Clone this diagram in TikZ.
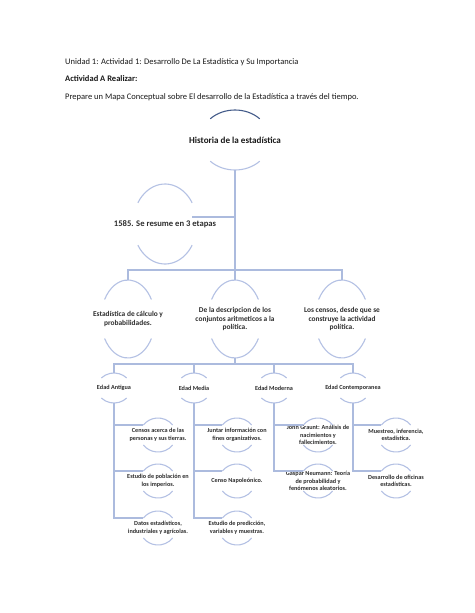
\documentclass[tikz,border=0pt]{standalone}
\usepackage{fontspec}
\setmainfont{Carlito}
\definecolor{lineblue}{RGB}{172,187,222}
\definecolor{arcblue}{RGB}{180,193,228}
\definecolor{darkarc}{RGB}{68,92,138}
\definecolor{txt}{RGB}{25,25,25}
\definecolor{ntxt}{RGB}{45,45,45}
\tikzset{
  conn/.style={draw=lineblue, line width=1.1pt},
  arcline/.style={draw=arcblue, line width=1.1pt},
  hdr/.style={anchor=base west, inner sep=0pt, text=txt, font=\fontsize{8.5}{10}\selectfont},
  titlebox/.style={inner sep=0pt, text=txt, font=\fontsize{9.1}{11}\bfseries\selectfont, minimum height=60pt},
  lvlone/.style={inner sep=0pt, text=ntxt, align=center, font=\fontsize{8.6}{10}\bfseries\selectfont, minimum height=80pt},
  lvltwo/.style={inner sep=0pt, text=ntxt, align=center, font=\fontsize{7.4}{8.8}\bfseries\selectfont, minimum height=78pt},
  lvlthree/.style={inner sep=0pt, text=ntxt, align=center, font=\fontsize{6.2}{7.5}\bfseries\selectfont, minimum height=30pt},
  leaf/.style={inner sep=0pt, text=ntxt, align=center, font=\fontsize{6.2}{7.6}\bfseries\selectfont, minimum height=34pt}
}
\newcommand\myarcs[4]{%
  \draw[arcline] (#1.center) ++(#4:#2pt and #3pt) arc[start angle=#4, end angle=180-#4, x radius=#2pt, y radius=#3pt];
  \draw[arcline] (#1.center) ++(-#4:#2pt and #3pt) arc[start angle=-#4, end angle=-180+#4, x radius=#2pt, y radius=#3pt];}
\begin{document}
\begin{tikzpicture}[x=1pt, y=1pt]
\useasboundingbox[fill=white] (0,0) rectangle (474,-613);
% header
\node[hdr] (h1) at (65,-64) {Unidad 1: Actividad 1: Desarrollo De La Estadística y Su Importancia};
\node[hdr, font=\fontsize{8.5}{10}\bfseries\selectfont] (h2) at (65,-81) {Actividad A Realizar:};
\node[hdr] (h3) at (65,-99) {Prepare un Mapa Conceptual sobre El desarrollo de la Estadística a través del tiempo.};
% nodes
\node[titlebox] (root) at (235,-140) {Historia de la estadística};
\node[lvlone] (n1585) at (165,-224) {1585. Se resume en 3 etapas};
\node[lvltwo] (a) at (128,-319) {Estadística de cálculo y\\probabilidades.};
\node[lvltwo] (b) at (235,-319) {De la descripcion de los\\conjuntos aritmeticos a la\\política.};
\node[lvltwo] (c) at (342,-319) {Los censos, desde que se\\construye la actividad\\política.};
\node[lvlthree] (anti) at (114,-388) {Edad Antigua};
\node[lvlthree] (media) at (194,-388) {Edad Media};
\node[lvlthree] (moder) at (274,-388) {Edad Moderna};
\node[lvlthree] (contemp) at (353,-388) {Edad Contemporanea};
\node[leaf] (a1) at (158,-435) {Censos acerca de las\\personas y sus tierras.};
\node[leaf] (a2) at (158,-481) {Estudio de población en\\los imperios.};
\node[leaf] (a3) at (158,-528) {Datos estadísticos,\\industriales y agrícolas.};
\node[leaf] (m1) at (237,-435) {Juntar información con\\fines organizativos.};
\node[leaf] (m2) at (237,-481) {Censo Napoleónico.};
\node[leaf] (m3) at (237,-528) {Estudio de predicción,\\variables y muestras.};
\node[leaf] (o1) at (318,-435) {John Graunt: Análisis de\\nacimientos y\\fallecimientos.};
\node[leaf] (o2) at (318,-481) {Gaspar Neumann: Teoría\\de probabilidad y\\fenómenos aleatorios.};
\node[leaf] (c1) at (396,-435) {Muestreo, inferencia,\\estadística.};
\node[leaf] (c2) at (396,-481) {Desarrollo de oficinas\\estadísticas.};
% arcs
\draw[line width=1.1pt, draw=darkarc] (root.center) ++(45:35pt and 30pt) arc[start angle=45, end angle=135, x radius=35pt, y radius=30pt];
\draw[arcline] (root.center) ++(-45:35pt and 30pt) arc[start angle=-45, end angle=-135, x radius=35pt, y radius=30pt];
\myarcs{n1585}{32}{40}{32}
\myarcs{a}{27}{39}{30}
\myarcs{b}{27}{39}{30}
\myarcs{c}{27}{39}{30}
\foreach \n in {anti,media,moder,contemp}{\myarcs{\n}{17}{15}{42}}
\foreach \n in {a1,a2,a3,m1,m2,m3,o1,o2,c1,c2}{\myarcs{\n}{18}{17}{36}}
% connectors
\coordinate (j1) at (235,-270);
\coordinate (j2) at (235,-364);
\coordinate (s1) at (235,-217);
\draw[conn] (root.south) -- (b.north);
\draw[conn] (s1) -- ([xshift=-43pt]s1);
\draw[conn] (a.north) |- (j1) -| (c.north);
\draw[conn] (b.south) -- (j2);
\draw[conn] (anti.north) |- (j2) -| (contemp.north);
\draw[conn] (media.north) -- (media.north |- j2);
\draw[conn] (moder.north) -- (moder.north |- j2);
\foreach \p/\q in {anti/a1,anti/a2,anti/a3,media/m1,media/m2,media/m3,moder/o1,moder/o2,contemp/c1,contemp/c2}{
  \draw[conn] (\p.south) |- ([shift={(-15,10)}]\q.center);
}
\end{tikzpicture}
\end{document}
